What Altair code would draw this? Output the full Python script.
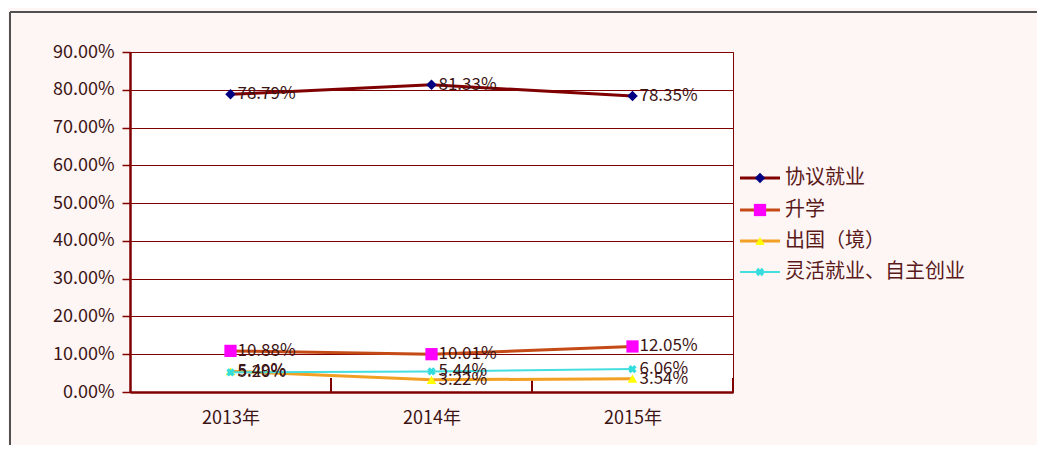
import altair as alt
import pandas as pd

# ---- data ----
years = ["2013年", "2014年", "2015年"]
series = ["协议就业", "升学", "出国（境）", "灵活就业、自主创业"]
xieyi = [78.79, 81.33, 78.35]
shengxue = [10.88, 10.01, 12.05]
chuguo = [5.49, 3.22, 3.54]
linghuo = [5.20, 5.44, 6.06]
y_ticks = [0, 10, 20, 30, 40, 50, 60, 70, 80, 90]

# ---- styles ----
line_colors = ["#800000", "#C44A16", "#F2A024", "#44DEDE"]
line_widths = [3, 3, 3, 2]
marker_colors = ["#000080", "#FF00FF", "#FFFF00", "#33DDDD"]
marker_shapes = ["diamond", "square", "triangle-up", "cross"]
marker_sizes = [110, 150, 90, 70]
marker_angles = [0, 0, 0, 45]
legend_y = [126, 158, 189, 220]

FONT = "Noto Sans CJK SC"
MAROON = "#800000"
TEXT = "#3c1414"

all_vals = [xieyi, shengxue, chuguo, linghuo]
rows = []
for s, vals in zip(series, all_vals):
    for yr, v in zip(years, vals):
        rows.append({"series": s, "year": yr, "value": v})
df = pd.DataFrame(rows)

W, H = 603, 340

x_enc = alt.X(
    "year:N",
    sort=years,
    scale=alt.Scale(type="point", padding=0.5),
    axis=alt.Axis(
        title=None, ticks=False, domainColor=MAROON, domainWidth=2.5,
        labelFont=FONT, labelFontSize=18, labelColor=TEXT, labelPadding=17,
        labelAngle=0, grid=False,
    ),
)
y_enc = alt.Y(
    "value:Q",
    scale=alt.Scale(domain=[0, 90], nice=False),
    axis=alt.Axis(
        title=None, values=y_ticks, labelExpr="format(datum.value, '.2f') + '%'",
        grid=True, gridColor=MAROON, gridWidth=1, gridOpacity=1,
        tickSize=8, tickColor=MAROON, tickWidth=1.5,
        domainColor=MAROON, domainWidth=2.5,
        labelFont=FONT, labelFontSize=18, labelColor=TEXT, labelPadding=8,
    ),
)

base = alt.Chart(df)
one = pd.DataFrame({"k": [0]})

layers = []

# inner category ticks (upward from the x axis, at category boundaries)
layers.append(
    base.transform_filter(alt.datum.series == series[0])
    .mark_rule(color=MAROON, strokeWidth=2, xOffset=W / 6)
    .encode(x=x_enc, y=alt.value(H - 14), y2=alt.value(H))
)

for i, s in enumerate(series):
    sub = base.transform_filter(alt.datum.series == s)
    layers.append(
        sub.mark_line(color=line_colors[i], strokeWidth=line_widths[i]).encode(x=x_enc, y=y_enc)
    )
for i, s in enumerate(series):
    sub = base.transform_filter(alt.datum.series == s)
    layers.append(
        sub.mark_point(
            shape=marker_shapes[i], filled=True, color=marker_colors[i],
            size=marker_sizes[i], angle=marker_angles[i], opacity=1,
        ).encode(x=x_enc, y=y_enc)
    )
for i, s in enumerate(series):
    sub = base.transform_filter(alt.datum.series == s)
    layers.append(
        sub.transform_calculate(label="format(datum.value, '.2f') + '%'")
        .mark_text(align="left", baseline="middle", dx=7, font=FONT, fontSize=17, color=TEXT)
        .encode(x=x_enc, y=y_enc, text="label:N")
    )

# legend (drawn by hand to the right of the plot)
for i, s in enumerate(series):
    leg = alt.Chart(one)
    layers.append(
        leg.mark_rule(color=line_colors[i], strokeWidth=line_widths[i]).encode(
            x=alt.value(W + 7), x2=alt.value(W + 47), y=alt.value(legend_y[i])
        )
    )
    layers.append(
        leg.mark_point(
            shape=marker_shapes[i], filled=True, color=marker_colors[i],
            size=marker_sizes[i], angle=marker_angles[i], opacity=1,
        ).encode(x=alt.value(W + 27), y=alt.value(legend_y[i]))
    )
    layers.append(
        leg.mark_text(align="left", baseline="middle", font=FONT, fontSize=20, color="#5a1a1a").encode(
            x=alt.value(W + 52), y=alt.value(legend_y[i]), text=alt.value(s)
        )
    )

# outer frame (top and left edges)
frame = alt.Chart(one)
layers.append(
    frame.mark_rule(color="#505050", strokeWidth=2).encode(
        x=alt.value(-120), x2=alt.value(W + 320), y=alt.value(-40)
    )
)
layers.append(
    frame.mark_rule(color="#505050", strokeWidth=2).encode(
        x=alt.value(-120), y=alt.value(-40), y2=alt.value(H + 60)
    )
)

chart = (
    alt.layer(*layers)
    .properties(
        width=W, height=H,
        padding={"left": 122, "top": 44, "right": 304, "bottom": 53},
        autosize=alt.AutoSizeParams(type="none"),
        background="#FEF5F5",
    )
    .configure_view(fill="white", stroke=MAROON, strokeWidth=1)
)

chart.save("out.html", embed_options={"renderer": "svg", "actions": False})
